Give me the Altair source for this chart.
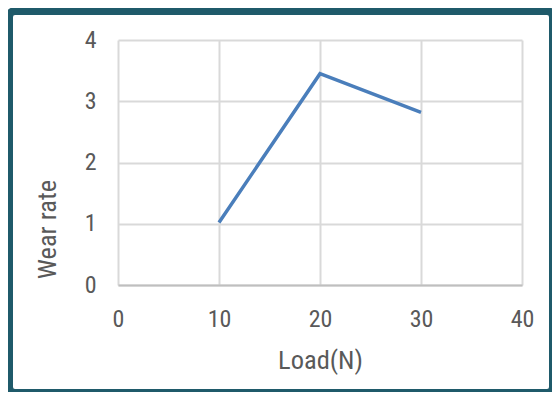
import altair as alt
import pandas as pd

load_n = [10, 20, 30]
wear_rate = [1.02, 3.45, 2.82]
x_ticks = [0, 10, 20, 30, 40]
y_ticks = [0, 1, 2, 3, 4]

df = pd.DataFrame({"Load": load_n, "Wear": wear_rate})

FONT = "Liberation Sans Narrow, Roboto Condensed, Arial Narrow, sans-serif"
GRAY = "#595959"

line = alt.Chart(df).mark_line(color="#4a7ebb", strokeWidth=3.5).encode(
    x=alt.X("Load:Q",
            scale=alt.Scale(domain=[0, 40], nice=False),
            axis=alt.Axis(values=x_ticks, title="Load(N)", ticks=False,
                          labelPadding=22, labelBaseline="top", labelFlush=False,
                          domain=True, domainColor="#bfbfbf", domainWidth=2,
                          grid=True, gridColor="#d9d9d9", gridWidth=2,
                          titleX=202, titleY=83, titleBaseline="alphabetic",
                          titleAlign="center", titleFontSize=26.5)),
    y=alt.Y("Wear:Q",
            scale=alt.Scale(domain=[0, 4], nice=False),
            axis=alt.Axis(values=y_ticks, title="Wear rate", ticks=False,
                          labelPadding=22, labelAlign="right", labelBaseline="middle",
                          labelFlush=False,
                          domain=False, grid=True, gridColor="#d9d9d9", gridWidth=2,
                          titleX=-63, titleY=189, titleAngle=-90,
                          titleBaseline="alphabetic", titleAlign="center",
                          titleFontSize=26.5)),
)

frame = alt.Chart(pd.DataFrame({"a": [0]})).mark_rect(
    fill=None, stroke="#1f5a6a", strokeWidth=8, cornerRadius=6, clip=False
).encode(
    x=alt.value(-109), x2=alt.value(435),
    y=alt.value(-29), y2=alt.value(353),
)

chart = alt.layer(line, frame).properties(
    width=404, height=245,
    autosize=alt.AutoSizeParams(type="none"),
    padding={"left": 110, "top": 32, "right": 30, "bottom": 107},
    background="white",
).configure_view(stroke=None).configure_axis(
    labelFont=FONT, titleFont=FONT, labelFontSize=24,
    labelColor=GRAY, titleColor=GRAY, titleFontWeight="normal",
)

chart.save("out.html", embed_options={"renderer": "svg", "actions": False})
